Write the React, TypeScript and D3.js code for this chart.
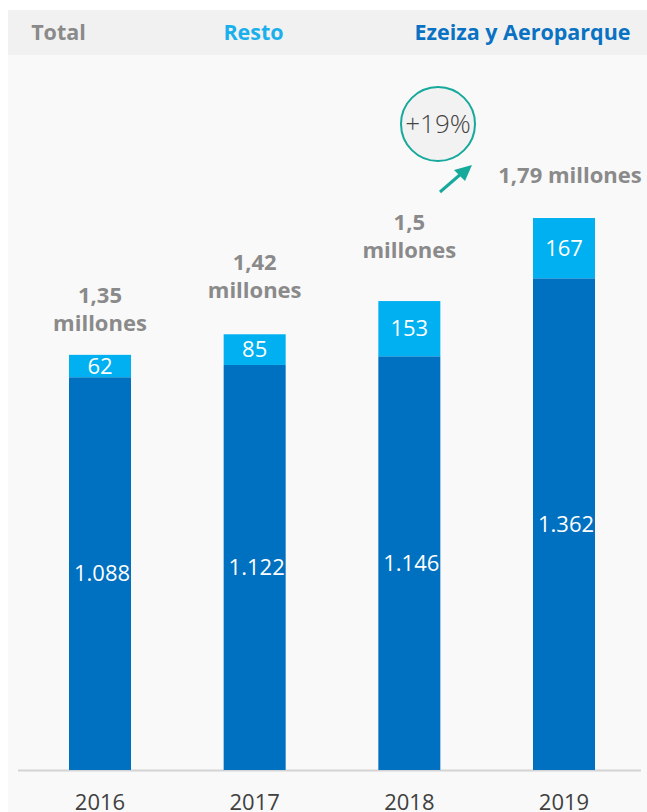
import React from "react";
import * as d3 from "d3";

const years = ["2016", "2017", "2018", "2019"];
const ezeiza = [1088, 1122, 1146, 1362];
const resto = [62, 85, 153, 167];
const ezeizaLabels = ["1.088", "1.122", "1.146", "1.362"];
const restoLabels = ["62", "85", "153", "167"];
const totalLabelLines = [
  ["1,35", "millones"],
  ["1,42", "millones"],
  ["1,5", "millones"],
  ["1,79 millones"],
];
const legendItems = ["Total", "Resto", "Ezeiza y Aeroparque"];
const growthLabel = "+19%";

const W = 647;
const H = 812;
const DARK = "#0070c0";
const LIGHT = "#00b0f0";
const GRAY = "#8a8a8a";
const TEAL = "#17a99b";
const FONT = "'Open Sans', sans-serif";

// layout tweaks for the total labels (gap above bar, x shift)
const totalGap = [24, 36, 43, 35];
const totalDx = [0, 0, 0, 6];

export default function App() {
  const x = d3.scalePoint<string>().domain(years).range([100, 564]);
  const y = d3.scaleLinear().domain([0, 1600]).range([770, 192.4]);
  const bw = 62;
  const legendColors = [GRAY, "#1ab0ec", "#0a72c2"];
  const legendX = [58.5, 253.5, 522.5];

  return (
    <svg
      width={W}
      height={H}
      style={{ position: "absolute", left: 0, top: 0 }}
      fontFamily={FONT}
    >
      <rect x={0} y={0} width={W} height={H} fill="#ffffff" />
      <rect x={8} y={10} width={W - 8} height={45} fill="#f1f1f1" />
      <rect x={8} y={55} width={W - 8} height={H - 55} fill="#f9f9f9" />
      {legendItems.map((t, i) => (
        <text
          key={t}
          x={legendX[i]}
          y={40}
          textAnchor="middle"
          fontSize={21.5}
          fontWeight={700}
          fill={legendColors[i]}
        >
          {t}
        </text>
      ))}
      <line x1={18} x2={641} y1={770.5} y2={770.5} stroke="#d4d4d4" strokeWidth={2} />
      {years.map((yr, i) => {
        const cx = x(yr)!;
        const top1 = y(ezeiza[i]);
        const top2 = y(ezeiza[i] + resto[i]);
        const lines = totalLabelLines[i];
        const lastBase = top2 - totalGap[i];
        return (
          <g key={yr}>
            <rect x={cx - bw / 2} y={top1} width={bw} height={y(0) - top1} fill={DARK} />
            <rect x={cx - bw / 2} y={top2} width={bw} height={top1 - top2} fill={LIGHT} />
            <text
              x={cx + 2}
              y={(top1 + y(0)) / 2}
              dy="0.35em"
              textAnchor="middle"
              fontSize={22}
              fill="#ffffff"
            >
              {ezeizaLabels[i]}
            </text>
            <text
              x={cx}
              y={(top1 + top2) / 2}
              dy="0.35em"
              textAnchor="middle"
              fontSize={22}
              fill="#ffffff"
            >
              {restoLabels[i]}
            </text>
            {lines.map((l, j) => (
              <text
                key={j}
                x={cx + totalDx[i]}
                y={lastBase - (lines.length - 1 - j) * 28}
                textAnchor="middle"
                fontSize={22}
                fontWeight={700}
                fill={GRAY}
              >
                {l}
              </text>
            ))}
            <text x={cx} y={810} textAnchor="middle" fontSize={22} fill="#404040">
              {yr}
            </text>
          </g>
        );
      })}
      <circle cx={438} cy={124} r={37} fill="#f2f2f2" stroke={TEAL} strokeWidth={2} />
      <text
        x={438}
        y={124}
        dy="0.35em"
        textAnchor="middle"
        fontSize={26}
        fontWeight={300}
        fill="#444444"
      >
        {growthLabel}
      </text>
      <line x1={440} y1={192} x2={462} y2={173} stroke={TEAL} strokeWidth={3} />
      <path d="M472,165 L454,170 L465,181 Z" fill={TEAL} />
    </svg>
  );
}
